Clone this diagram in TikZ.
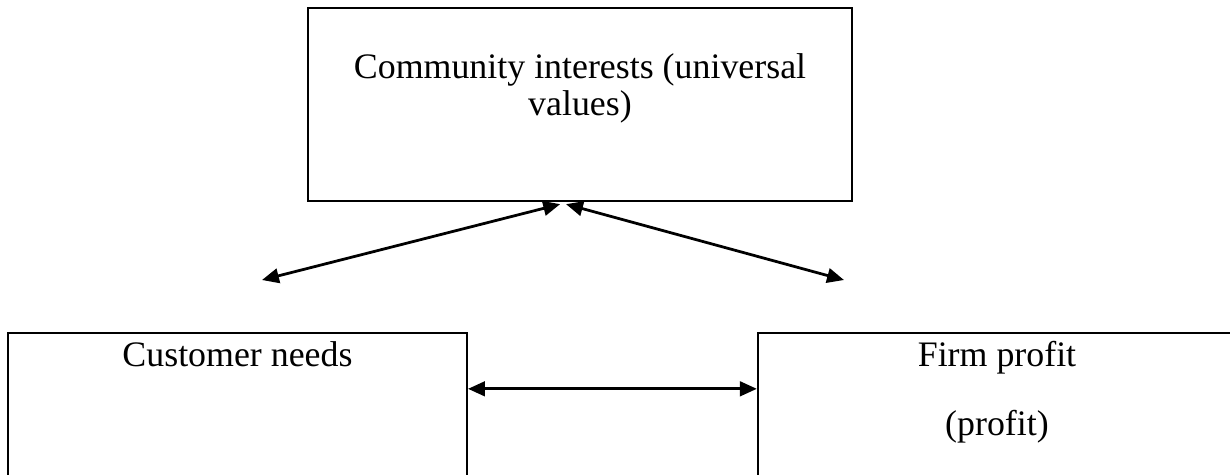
\documentclass[tikz,border=0pt]{standalone}
\usepackage{fontspec}
\setmainfont{Liberation Serif}
\usetikzlibrary{positioning,arrows.meta}

\tikzset{
	box/.style={draw, line width=0.75pt, inner sep=0pt},
	boxtext/.style={inner sep=0pt, anchor=base, font=\fontsize{12.3}{12.7}\selectfont},
	link/.style={line width=0.95pt, {Triangle[length=5.8pt,width=5pt]}-{Triangle[length=5.8pt,width=5pt]}}
}

\begin{document}
\begin{tikzpicture}[x=0.343pt, y=-0.343pt]
	\path[use as bounding box, clip] (0,0) rectangle (1230,474);
	
	% boxes
	\node[box, minimum width=186.6pt, minimum height=66.2pt] (community) at (580,104.5) {};
	\node[box, minimum width=157.4pt, minimum height=64.1pt] (customer) at (237.5,426.5) {};
	\node[box, minimum width=164pt, minimum height=64.1pt] (firm) at (997,426.5) {};
	
	% texts
	\node[boxtext] (community1) at ([yshift=-24.4pt]community.north) {Community interests (universal};
	\node[boxtext] (community2) at ([yshift=-12.7pt]community1.base) {values)};
	\node[boxtext] (customertext) at ([yshift=-11.7pt]customer.north) {Customer needs};
	\node[boxtext] (firm1) at ([yshift=-11.7pt]firm.north) {Firm profit};
	\node[boxtext] (firm2) at ([yshift=-23.7pt]firm1.base) {(profit)};
	
	% arrows
	\coordinate (meetleft) at ([xshift=-6.8pt, yshift=-0.7pt]community.south);
	\coordinate (meetright) at ([xshift=-4.8pt, yshift=-0.7pt]community.south);
	\coordinate (leftend) at (262,280);
	\coordinate (rightend) at (844,280);
	\draw[link] (leftend) -- (meetleft);
	\draw[link] (meetright) -- (rightend);
	\draw[link] ([yshift=-19.5pt]customer.north east) -- ([yshift=-19.5pt]firm.north west);
\end{tikzpicture}
\end{document}
